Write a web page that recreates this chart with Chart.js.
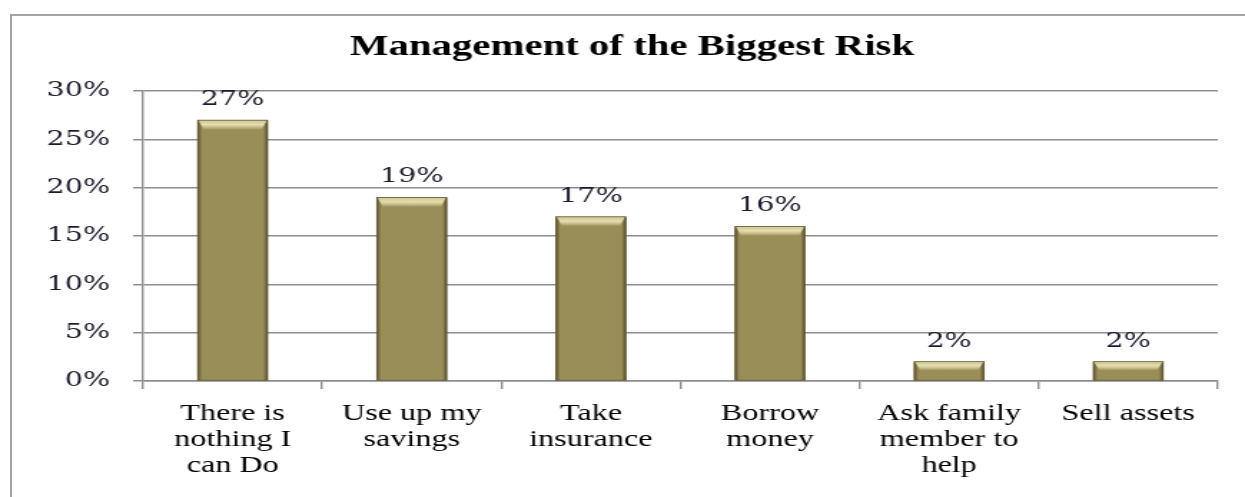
<!DOCTYPE html>
<html>
<head>
<meta charset="utf-8">
<script src="https://cdn.jsdelivr.net/npm/chart.js@4"></script>
<style>
  html, body { margin: 0; padding: 0; background: #fff; overflow: hidden; }
  #frame { position: absolute; left: 10px; top: 14px; width: 1400px; height: 700px; border: 2px solid #a4a4a4; box-sizing: border-box; }
  #wrap { position: absolute; left: 0; top: 0; width: 870px; height: 497px; transform: scaleX(1.431); transform-origin: 0 0; }
</style>
</head>
<body>
<div id="frame"></div>
<div id="wrap"><canvas id="c"></canvas></div>
<script>
const chartTitle = "Management of the Biggest Risk";
const categories = [
  ["There is", "nothing I", "can Do"],
  ["Use up my", "savings"],
  ["Take", "insurance"],
  ["Borrow", "money"],
  ["Ask family", "member to", "help"],
  ["Sell assets"]
];
const values = [27, 19, 17, 16, 2, 2];
const yTicks = [0, 5, 10, 15, 20, 25, 30];

const GRID = '#8e8e8e';
const BAR = '#9a8e58';

const bevelPlugin = {
  id: 'bevel',
  afterDatasetsDraw(chart) {
    const ctx = chart.ctx;
    const meta = chart.getDatasetMeta(0);
    ctx.save();
    meta.data.forEach((bar) => {
      const p = bar.getProps(['x', 'y', 'base', 'width'], true);
      const l = p.x - p.width / 2, r = p.x + p.width / 2, t = p.y, b = p.base;
      const h = b - t;
      const bev = Math.min(9, h * 0.45);
      const side = 3;
      let g = ctx.createLinearGradient(l, 0, l + side, 0);
      g.addColorStop(0, 'rgba(70,62,30,0.75)');
      g.addColorStop(1, 'rgba(70,62,30,0)');
      ctx.fillStyle = g;
      ctx.fillRect(l, t, side, h);
      g = ctx.createLinearGradient(r - side, 0, r, 0);
      g.addColorStop(0, 'rgba(70,62,30,0)');
      g.addColorStop(1, 'rgba(70,62,30,0.8)');
      ctx.fillStyle = g;
      ctx.fillRect(r - side, t, side, h);
      g = ctx.createLinearGradient(0, t, 0, t + bev);
      g.addColorStop(0, '#cfc690');
      g.addColorStop(0.5, '#e6ddb0');
      g.addColorStop(1, '#a99d66');
      ctx.fillStyle = g;
      ctx.beginPath();
      ctx.moveTo(l + 0.5, t);
      ctx.lineTo(r - 0.5, t);
      ctx.lineTo(r - side - 1, t + bev);
      ctx.lineTo(l + side + 1, t + bev);
      ctx.closePath();
      ctx.fill();
      ctx.strokeStyle = 'rgba(90,82,45,0.9)';
      ctx.lineWidth = 0.8;
      ctx.strokeRect(l, t, p.width, h);
    });
    ctx.restore();
  }
};

const valueLabelPlugin = {
  id: 'valueLabels',
  afterDatasetsDraw(chart) {
    const ctx = chart.ctx;
    const meta = chart.getDatasetMeta(0);
    ctx.save();
    ctx.font = '20px "DejaVu Serif"';
    ctx.fillStyle = '#1c1c30';
    ctx.textAlign = 'center';
    ctx.textBaseline = 'alphabetic';
    meta.data.forEach((bar, i) => {
      ctx.fillText(values[i] + '%', bar.x, bar.y - 15);
    });
    ctx.restore();
  }
};

new Chart(document.getElementById('c'), {
  type: 'bar',
  data: {
    labels: categories,
    datasets: [{
      data: values,
      backgroundColor: BAR,
      borderWidth: 0,
      categoryPercentage: 1.0,
      barPercentage: 0.39
    }]
  },
  options: {
    responsive: true,
    maintainAspectRatio: false,
    animation: false,
    devicePixelRatio: 1,
    layout: { padding: { left: 13.4, right: 0, top: 0, bottom: 0 } },
    plugins: {
      legend: { display: false },
      tooltip: { enabled: false },
      title: {
        display: true,
        text: chartTitle,
        color: '#000',
        font: { family: '"Liberation Serif"', size: 28.5, weight: 'bold', lineHeight: 1.2 },
        padding: { top: 31, bottom: 26 }
      }
    },
    scales: {
      x: {
        grid: { display: true, drawOnChartArea: false, drawTicks: true, tickLength: 8, offset: true, color: GRID, lineWidth: 1.4 },
        border: { display: true, color: GRID, width: 1.5 },
        ticks: {
          color: '#000',
          font: { family: '"Liberation Serif"', size: 22.5, lineHeight: 1.156 },
          padding: 12,
          maxRotation: 0,
          autoSkip: false
        },
        afterFit(scale) { scale.height = 116; }
      },
      y: {
        min: 0,
        max: 30,
        afterBuildTicks(scale) { scale.ticks = yTicks.map(v => ({ value: v })); },
        grid: { color: GRID, lineWidth: 1.5, drawTicks: true, tickLength: 7 },
        border: { display: true, color: GRID, width: 1.4 },
        ticks: {
          color: '#1c1c30',
          font: { family: '"DejaVu Serif"', size: 20 },
          padding: 16,
          callback: (v) => v + '%'
        },
        afterFit(scale) { scale.width = 86.6; }
      },
      yPad: {
        position: 'right',
        min: 0,
        max: 30,
        grid: { display: false, drawTicks: false },
        border: { display: false },
        ticks: { display: false },
        afterFit(scale) { scale.width = 19; }
      }
    }
  },
  plugins: [bevelPlugin, valueLabelPlugin]
});
</script>
</body>
</html>
